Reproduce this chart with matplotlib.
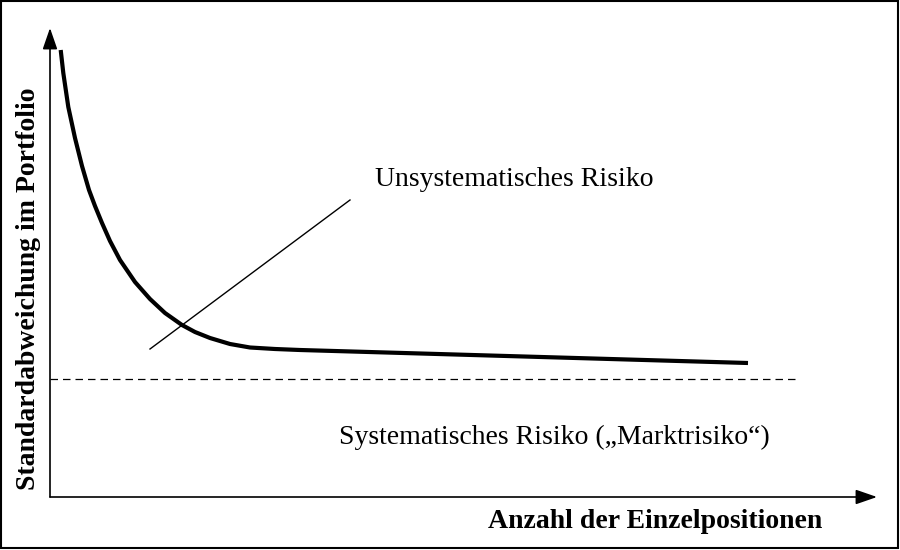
import matplotlib.pyplot as plt
from matplotlib.patches import Rectangle

# diagram drawn in pixel units of the 900x550 canvas (y grows downwards)
curve_x = [60.7, 63.3, 68.3, 75, 82, 89, 95, 102, 110, 120, 135, 150, 165, 182, 195, 210, 230, 250, 275, 300, 748]
curve_y = [50, 73, 107, 138, 166, 190, 206, 223, 241, 260, 282, 299, 313, 325, 332, 338, 344, 347.5, 349, 350, 363]

market_risk_level = 379
market_line_x = [50, 798]

pointer_x = [150, 350]
pointer_y = [349, 200]

origin = (50, 497)
y_axis_top = 28
x_axis_right = 877

labels = {
    "unsys": "Unsystematisches Risiko",
    "sys": "Systematisches Risiko (\u201eMarktrisiko\u201c)",
    "xlabel": "Anzahl der Einzelpositionen",
    "ylabel": "Standardabweichung im Portfolio",
}

plt.rcParams["font.family"] = ["Liberation Serif", "DejaVu Serif"]

fig = plt.figure(figsize=(9, 5.5), dpi=100)
ax = fig.add_axes([0, 0, 1, 1])
ax.set_xlim(0, 900)
ax.set_ylim(550, 0)
ax.axis("off")

# outer frame
ax.add_patch(Rectangle((1, 1), 897, 547, fill=False, lw=1.5, ec="black"))

# axes with arrows
arrow = dict(arrowstyle="-|>,head_length=1.3,head_width=0.45", lw=1.2, color="black",
             shrinkA=0, shrinkB=0)
ax.annotate("", xy=(origin[0], y_axis_top), xytext=origin, arrowprops=arrow)
ax.annotate("", xy=(x_axis_right, origin[1]), xytext=origin, arrowprops=arrow)

# risk curve
ax.plot(curve_x, curve_y, color="black", lw=3, solid_capstyle="butt", solid_joinstyle="round")

# systematic risk level
ax.plot(market_line_x, [market_risk_level] * 2, color="black", lw=0.9,
        linestyle=(0, (6, 4)))

# pointer line to unsystematic risk
ax.plot(pointer_x, pointer_y, color="black", lw=1)

ax.text(375, 180, labels["unsys"], fontsize=20, ha="left", va="center")
ax.text(554, 437, labels["sys"], fontsize=20, ha="center", va="center")
ax.text(655, 521, labels["xlabel"], fontsize=20, fontweight="bold",
        ha="center", va="center")
ax.text(29, 289, labels["ylabel"], fontsize=20, fontweight="bold",
        ha="center", va="center", rotation=90)

fig.savefig("out.png", dpi=100)
